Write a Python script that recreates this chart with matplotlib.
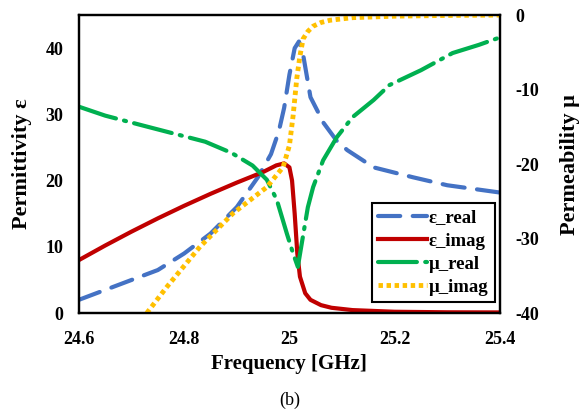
import matplotlib
matplotlib.use("Agg")
import matplotlib.pyplot as plt

# ---- data ----
eps_real_f = [24.6, 24.65, 24.7, 24.75, 24.8, 24.85, 24.9, 24.94, 24.965, 24.98, 24.99, 25.0,
              25.01, 25.018, 25.025, 25.04, 25.065, 25.09, 25.11, 25.16, 25.235, 25.3, 25.4]
eps_real = [2, 3.5, 5, 6.5, 9, 12, 16, 20.5, 24, 27.5, 31, 36,
            40, 41, 39.5, 32.6, 28.7, 26, 24.6, 22, 20.5, 19.3, 18.2]

eps_imag_f = [24.6, 24.65, 24.7, 24.75, 24.8, 24.85, 24.9, 24.95, 24.975, 24.99, 25.0,
              25.005, 25.01, 25.015, 25.02, 25.03, 25.04, 25.06, 25.08, 25.12, 25.2, 25.3, 25.4]
eps_imag = [8, 10.2, 12.3, 14.3, 16.2, 18, 19.7, 21.3, 22.3, 22.6, 22,
            20, 15, 9, 5.5, 3, 2, 1.2, 0.8, 0.45, 0.2, 0.12, 0.1]

mu_real_f = [24.6, 24.65, 24.72, 24.78, 24.84, 24.89, 24.93, 24.957, 24.976, 24.995, 25.007,
             25.016, 25.025, 25.035, 25.045, 25.064, 25.09, 25.12, 25.16, 25.19, 25.25,
             25.31, 25.36, 25.4]
mu_real = [-12.3, -13.5, -14.8, -15.9, -17, -18.5, -20.2, -22.1, -24.8, -29.3, -32,
           -33.8, -30, -25.8, -23.1, -19.5, -16.4, -13.7, -11.4, -9.4, -7.4,
           -5.1, -4, -3]

mu_imag_f = [24.729, 24.767, 24.83, 24.893, 24.957, 24.988, 25.0, 25.007, 25.014, 25.02,
             25.026, 25.035, 25.045, 25.06, 25.077, 25.12, 25.2, 25.3, 25.4]
mu_imag = [-40, -36.5, -31.1, -26.6, -23.1, -20.4, -17.5, -13.5, -8.5, -5.5,
           -3.2, -2.2, -1.5, -1, -0.7, -0.35, -0.15, -0.05, 0]

x_ticks = [24.6, 24.8, 25.0, 25.2, 25.4]
x_ticklabels = ["24.6", "24.8", "25", "25.2", "25.4"]

plt.rcParams["font.family"] = ["Liberation Serif", "DejaVu Serif"]
plt.rcParams["font.weight"] = "bold"
plt.rcParams["lines.scale_dashes"] = False
plt.rcParams["axes.unicode_minus"] = False

fig = plt.figure(figsize=(5.8, 4.18), dpi=100)
ax = fig.add_axes([0.136, 0.251, 0.726, 0.713])
ax2 = ax.twinx()

l1, = ax.plot(eps_real_f, eps_real, color="#4472C4", lw=3, dashes=(16, 9),
              dash_capstyle="round", label="ε_real")
l2, = ax.plot(eps_imag_f, eps_imag, color="#C00000", lw=3, label="ε_imag")
l3, = ax2.plot(mu_real_f, mu_real, color="#00B050", lw=3, dashes=(28, 6, 1.5, 6),
               dash_capstyle="round", label="μ_real")
l4, = ax2.plot(mu_imag_f, mu_imag, color="#FFC000", lw=3.5, dashes=(3.2, 2.6),
               dash_capstyle="butt", label="μ_imag")

ax.set_xlim(24.6, 25.4)
ax.set_ylim(0, 45)
ax2.set_ylim(-40, 0)
ax.set_xticks(x_ticks)
ax.set_xticklabels(x_ticklabels)
ax.set_yticks([0, 10, 20, 30, 40])
ax2.set_yticks([-40, -30, -20, -10, 0])

ax.tick_params(axis="x", length=0, labelsize=13, pad=13)
ax.tick_params(axis="y", length=0, labelsize=13, pad=11)
ax2.tick_params(axis="y", length=0, labelsize=13, pad=11)
for a in (ax, ax2):
    for s in a.spines.values():
        s.set_linewidth(1.6)
        s.set_color("black")

ax.set_xlabel("Frequency [GHz]", fontsize=15, fontweight="bold", labelpad=4)
ax.set_ylabel("Permittivity ε", fontsize=16, fontweight="bold", labelpad=10)
ax2.set_ylabel("Permeability μ", fontsize=16, fontweight="bold", labelpad=15)

leg = ax2.legend(handles=[l1, l2, l3, l4], loc="upper left",
                 bbox_to_anchor=(0.641, 0.515), bbox_transform=fig.transFigure,
                 fancybox=False, framealpha=1, edgecolor="black",
                 prop={"size": 13.5, "weight": "bold"}, handlelength=2.6,
                 handletextpad=0.1, labelspacing=0.32, borderpad=0.35,
                 borderaxespad=0)
leg.get_frame().set_linewidth(1.5)

fig.text(0.5, 0.043, "(b)", ha="center", va="center", fontsize=13, fontweight="normal")

fig.savefig("out.png", dpi=100)
